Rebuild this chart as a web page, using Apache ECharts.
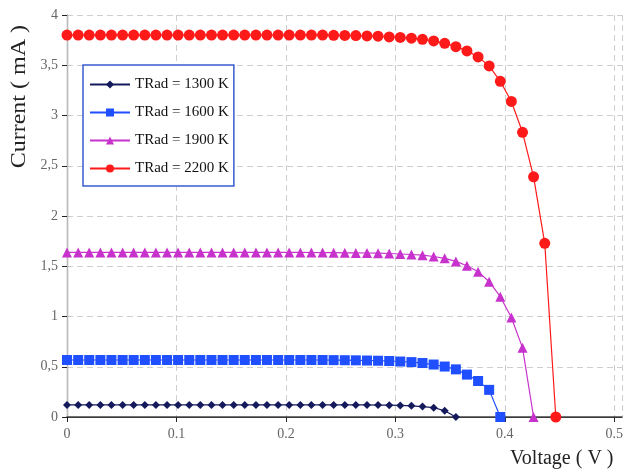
<!DOCTYPE html>
<html>
<head>
<meta charset="utf-8">
<script src="https://cdn.jsdelivr.net/npm/echarts@6/dist/echarts.min.js"></script>
<style>html,body{margin:0;padding:0;background:#fff;}#c{width:626px;height:472px;}</style>
</head>
<body>
<div id="c"></div>
<script>
// Voltage samples (V)
var voltage = [0, 0.0102, 0.0203, 0.0305, 0.0406, 0.0508, 0.0609, 0.0711, 0.0812, 0.0914,
  0.1015, 0.1117, 0.1218, 0.1320, 0.1421, 0.1523, 0.1624, 0.1726, 0.1827, 0.1929,
  0.2030, 0.2132, 0.2233, 0.2335, 0.2436, 0.2538, 0.2639, 0.2741, 0.2842, 0.2944,
  0.3045, 0.3147, 0.3248, 0.3350, 0.3451, 0.3553, 0.3654, 0.3756, 0.3857, 0.3959,
  0.4060, 0.4162, 0.4263, 0.4365, 0.4466];

var legendNames = ['TRad = 1300 K', 'TRad = 1600 K', 'TRad = 1900 K', 'TRad = 2200 K'];

// Current (mA)
var current1300 = [0.12,0.12,0.12,0.12,0.12,0.12,0.12,0.12,0.12,0.12,
  0.12,0.12,0.12,0.12,0.12,0.12,0.12,0.12,0.12,0.12,
  0.12,0.12,0.12,0.12,0.12,0.12,0.12,0.12,0.119,0.118,
  0.115,0.111,0.104,0.093,0.062,0];
var current1600 = [0.567,0.567,0.567,0.567,0.567,0.567,0.567,0.567,0.567,0.567,
  0.567,0.567,0.567,0.567,0.567,0.567,0.567,0.567,0.567,0.567,
  0.567,0.567,0.567,0.567,0.566,0.565,0.564,0.562,0.560,0.557,
  0.552,0.546,0.537,0.522,0.502,0.474,0.422,0.358,0.270,0];
var current1900 = [1.638,1.638,1.638,1.638,1.638,1.638,1.638,1.638,1.638,1.638,
  1.638,1.638,1.638,1.638,1.638,1.638,1.638,1.638,1.638,1.638,
  1.638,1.638,1.637,1.636,1.635,1.634,1.633,1.632,1.630,1.627,
  1.622,1.617,1.610,1.597,1.579,1.548,1.505,1.446,1.346,1.197,
  0.990,0.688,0];
var current2200 = [3.80,3.80,3.80,3.80,3.80,3.80,3.80,3.80,3.80,3.80,
  3.80,3.80,3.80,3.80,3.80,3.80,3.80,3.80,3.80,3.80,
  3.80,3.80,3.80,3.80,3.798,3.797,3.795,3.792,3.789,3.782,
  3.777,3.769,3.758,3.742,3.718,3.685,3.643,3.583,3.493,3.340,
  3.140,2.833,2.390,1.728,0];

var xTicks = ['0', '0.1', '0.2', '0.3', '0.4', '0.5'];
var yTicks = ['0', '0,5', '1', '1,5', '2', '2,5', '3', '3,5', '4'];

function pairs(cur) {
  return cur.map(function (c, i) { return [voltage[i], c]; });
}

var serif = 'Liberation Serif';
var colors = ['#141a5c', '#1f4fff', '#c832cc', '#ff1a1a'];
var symbols = ['diamond', 'rect', 'triangle', 'circle'];
var sizes = [8, 10, 10, 11];
var currents = [current1300, current1600, current1900, current2200];

var series = currents.map(function (cur, i) {
  return {
    name: legendNames[i],
    type: 'line',
    data: pairs(cur),
    symbol: symbols[i],
    symbolSize: sizes[i],
    showSymbol: true,
    lineStyle: { color: colors[i], width: 1.2 },
    itemStyle: { color: colors[i] },
    emphasis: { disabled: true },
    animation: false,
    z: 3
  };
});

var chart = echarts.init(document.getElementById('c'), null, { renderer: 'canvas' });
chart.setOption({
  animation: false,
  backgroundColor: '#fff',
  grid: { left: 67, top: 15, right: 3, bottom: 55, containLabel: false },
  legend: {
    orient: 'vertical',
    left: 83, top: 65,
    itemWidth: 40, itemHeight: 10, itemGap: 13,
    padding: [12, 5, 10, 6],
    borderColor: '#3a5bd0', borderWidth: 1.5,
    backgroundColor: '#fff',
    textStyle: { fontFamily: serif, fontSize: 15, color: '#111' },
    data: legendNames
  },
  xAxis: [{
    type: 'value', min: 0, max: 0.507, interval: 0.1,
    axisLine: { show: true, onZero: false, lineStyle: { color: '#222', width: 1.2 } },
    axisTick: { show: true, inside: false, length: 5, lineStyle: { color: '#222' } },
    axisLabel: {
      showMaxLabel: false,
      fontFamily: serif, fontSize: 14, color: '#666', margin: 10,
      formatter: function (v) { var i = Math.round(v * 10); return xTicks[i] !== undefined ? xTicks[i] : ''; }
    },
    splitLine: { show: true, lineStyle: { color: '#cfcfcf', type: [6, 4], width: 1 } }
  }, {
    type: 'value', position: 'top', min: 0, max: 0.507,
    axisLine: { show: true, lineStyle: { color: '#444', width: 1.6 } },
    axisTick: { show: false }, axisLabel: { show: false }, splitLine: { show: false }
  }],
  yAxis: [{
    type: 'value', min: 0, max: 4, interval: 0.5,
    axisLine: { show: true, lineStyle: { color: '#222', width: 1.2 } },
    axisTick: { show: true, inside: false, length: 5, lineStyle: { color: '#222' } },
    axisLabel: {
      fontFamily: serif, fontSize: 14, color: '#666', margin: 9,
      formatter: function (v) { var i = Math.round(v * 2); return yTicks[i] !== undefined ? yTicks[i] : ''; }
    },
    splitLine: { show: true, lineStyle: { color: '#cfcfcf', type: [6, 4], width: 1 } }
  }, {
    type: 'value', position: 'right', min: 0, max: 4,
    axisLine: { show: true, lineStyle: { color: '#bbb', width: 1 } },
    axisTick: { show: false }, axisLabel: { show: false }, splitLine: { show: false }
  }],
  graphic: [{
    type: 'text', left: 10, top: 25, rotation: Math.PI / 2, scaleX: 1.2,
    style: { text: 'Current ( mA )', font: '20px "Liberation Serif"', fill: '#222' }
  }, {
    type: 'text', left: 510, top: 449,
    style: { text: 'Voltage ( V )', font: '20px "Liberation Serif"', fill: '#222' }
  }],
  series: series
});
</script>
</body>
</html>
